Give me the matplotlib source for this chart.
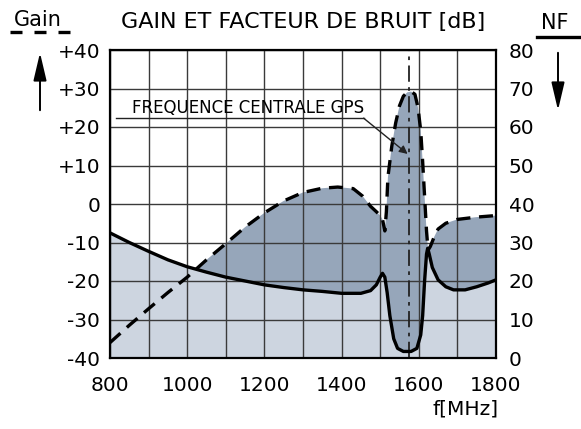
import matplotlib
matplotlib.use("Agg")
import matplotlib.pyplot as plt
import numpy as np

plt.rcParams['font.family'] = ['DejaVu Sans']

# Gain (dashed, left axis, dB)
gain_f = [800, 850, 900, 950, 1000, 1050, 1100, 1150, 1200, 1250, 1300, 1350, 1390,
          1430, 1455, 1475, 1490, 1500, 1506, 1512, 1516, 1520, 1530, 1540, 1550,
          1560, 1570, 1580, 1590, 1598, 1605, 1610, 1615, 1620, 1624, 1630, 1640,
          1650, 1670, 1700, 1750, 1800]
gain_db = [-36, -31.5, -27.2, -23, -19, -14.5, -10.3, -6, -2.3, 0.8, 3.0, 4.1, 4.4,
           4.0, 2.0, -0.6, -2.0, -3.0, -4.0, -7.0, -2.0, 7.0, 15.0, 21.0, 25.5,
           28.0, 29.0, 29.2, 28.5, 25.0, 19.0, 11.0, 2.0, -7.0, -12.0, -11.0, -8.5,
           -6.5, -5.0, -4.0, -3.4, -3.0]

# Noise figure (solid, right axis, dB)
nf_f = [800, 850, 900, 950, 1000, 1050, 1100, 1150, 1200, 1250, 1300, 1350, 1400,
        1450, 1475, 1490, 1500, 1506, 1512, 1518, 1525, 1535, 1545, 1560, 1580,
        1595, 1605, 1610, 1615, 1620, 1623, 1627, 1635, 1650, 1670, 1690, 1720,
        1750, 1780, 1800]
nf_db = [32.5, 30.0, 27.7, 25.5, 23.7, 22.3, 21.0, 20.0, 19.0, 18.3, 17.7, 17.3, 16.8,
         16.8, 17.5, 19.0, 21.0, 22.0, 21.0, 17.0, 11.0, 5.0, 2.5, 1.7, 1.7,
         2.5, 6.0, 11.0, 20.0, 27.0, 28.5, 27.0, 23.5, 20.3, 18.5, 17.7, 17.7,
         18.5, 19.5, 20.3]

gps_freq = 1575
left_ticks = [-40, -30, -20, -10, 0, 10, 20, 30, 40]
left_labels = ['-40', '-30', '-20', '-10', '0', '+10', '+20', '+30', '+40']
right_labels = ['0', '10', '20', '30', '40', '50', '60', '70', '80']
x_ticks = [800, 1000, 1200, 1400, 1600, 1800]

light = '#cdd5e0'
dark = '#96a6ba'

fig = plt.figure(figsize=(5.81, 4.29), dpi=100)
ax = fig.add_axes([110/581, 1-358/429, 386/581, 308/429])
ax.set_xlim(800, 1800)
ax.set_ylim(-40, 40)

f = np.array(gain_f, float)
g = np.array(gain_db, float)
nf_f_a = np.array(nf_f, float)
nf_as_gain = np.array(nf_db, float) - 40  # right axis offset of 40 dB

# common grid for fills
fx = np.union1d(f, nf_f_a)
gg = np.interp(fx, f, g)
nn = np.interp(fx, nf_f_a, nf_as_gain)

ax.fill_between(fx, -40, nn, color=light, lw=0, zorder=1)
ax.fill_between(fx, nn, gg, where=gg > nn, interpolate=True, color=dark, lw=0, zorder=1)

# grid
for xv in range(800, 1801, 100):
    ax.axvline(xv, color='#3a3a3a', lw=1.0, zorder=2)
for yv in range(-40, 41, 10):
    ax.axhline(yv, color='#3a3a3a', lw=1.0, zorder=2)

ax.axvline(gps_freq, color='#222222', lw=1.3, dashes=(9, 3, 2, 3), zorder=3)

ax.plot(f, g, color='black', lw=2.4, dashes=(4.2, 2.6), zorder=4)
ax.plot(nf_f_a, nf_as_gain, color='black', lw=2.4, zorder=4)

for s in ax.spines.values():
    s.set_linewidth(1.6)
    s.set_zorder(5)

ax.set_xticks(x_ticks)
ax.set_xticklabels([str(v) for v in x_ticks], fontsize=14.5)
ax.set_yticks(left_ticks)
ax.set_yticklabels(left_labels, fontsize=14.5)
ax.tick_params(length=0, pad=7)
ax.tick_params(axis='x', pad=13)

ax2 = ax.twinx()
ax2.set_ylim(0, 80)
ax2.set_yticks(range(0, 81, 10))
ax2.set_yticklabels(right_labels, fontsize=14.5)
ax2.tick_params(length=0, pad=9)
for s in ax2.spines.values():
    s.set_visible(False)

# annotation
ax.annotate('', xy=(1571, 13.0), xytext=(1457, 22.3),
            arrowprops=dict(arrowstyle='-|>', color='#222222', lw=1.0,
                            mutation_scale=12, shrinkA=0, shrinkB=0), zorder=6)
ax.plot([815, 1457], [22.3, 22.3], color='#222222', lw=1.0, zorder=6)
ax.text(1158, 22.6, 'FREQUENCE CENTRALE GPS', ha='center', va='bottom', fontsize=12, zorder=6)

# titles and labels
fig.text(303/581, 1-22/429, 'GAIN ET FACTEUR DE BRUIT [dB]', ha='center', va='center', fontsize=16)
fig.text(466/581, 1-409/429, 'f[MHz]', ha='center', va='center', fontsize=14.5)
fig.text(38/581, 1-20/429, 'Gain', ha='center', va='center', fontsize=15)
fig.add_artist(plt.Line2D([10/581, 70/581], [1-32/429, 1-32/429], color='black', lw=2.4,
                          dashes=(3.6, 3.6), transform=fig.transFigure))
fig.text(555/581, 1-23/429, 'NF', ha='center', va='center', fontsize=15)
fig.add_artist(plt.Line2D([537/581, 581/581], [1-37/429, 1-37/429], color='black', lw=2.4,
                          transform=fig.transFigure))
fig.add_artist(matplotlib.patches.FancyArrowPatch(
    (40/581, 1-113/429), (40/581, 1-50/429), transform=fig.transFigure,
    arrowstyle='-|>,head_length=0.85,head_width=0.2', mutation_scale=20, color='black', lw=1.4))
fig.add_artist(matplotlib.patches.FancyArrowPatch(
    (558/581, 1-50/429), (558/581, 1-113/429), transform=fig.transFigure,
    arrowstyle='-|>,head_length=0.85,head_width=0.2', mutation_scale=20, color='black', lw=1.4))

fig.savefig('out.png', dpi=100, facecolor='white')
